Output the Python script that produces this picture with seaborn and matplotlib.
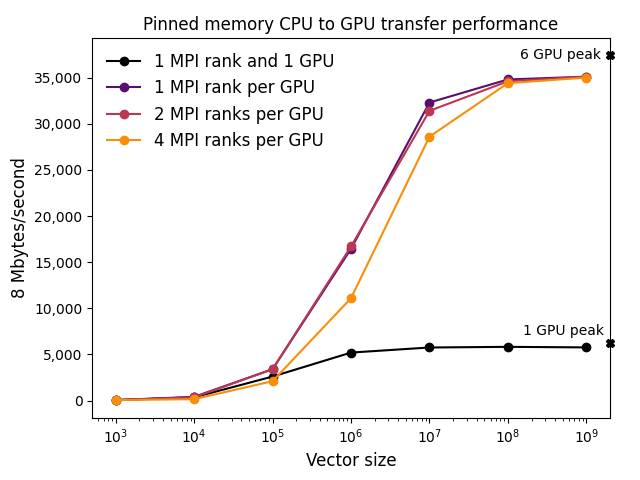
import numpy as np
import pandas as pd
import matplotlib
matplotlib.use('Agg')
import matplotlib.pyplot as plt
import matplotlib.ticker as mticker
import seaborn as sns

vector_sizes = [1e3, 1e4, 1e5, 1e6, 1e7, 1e8, 1e9]
one_rank_one_gpu = [50, 350, 2600, 5200, 5750, 5820, 5760]
one_rank_per_gpu = [50, 400, 3400, 16450, 32300, 34800, 35100]
two_ranks_per_gpu = [50, 350, 3400, 16700, 31400, 34600, 35100]
four_ranks_per_gpu = [50, 150, 2100, 11100, 28600, 34400, 35000]
labels = ['1 MPI rank and 1 GPU', '1 MPI rank per GPU',
          '2 MPI ranks per GPU', '4 MPI ranks per GPU']
peak_labels = ['6 GPU peak', '1 GPU peak']
peak_values = [37500, 6250]

series = [one_rank_one_gpu, one_rank_per_gpu, two_ranks_per_gpu, four_ranks_per_gpu]
colors = plt.cm.inferno(np.linspace(0, 0.75, 4))

fig, ax = plt.subplots(figsize=(6.4, 4.8), dpi=100)
for vals, lab, c in zip(series, labels, colors):
    df = pd.DataFrame({'size': vector_sizes, 'rate': vals})
    sns.lineplot(data=df, x='size', y='rate', ax=ax, color=c, marker='o',
                 markersize=6, markeredgecolor=c, markeredgewidth=1,
                 label=lab)

ax.set_xscale('log')
xmax = 10 ** 9.3
ax.set_xlim(10 ** 2.7, xmax)

# peak markers on the right spine
for lab, val, ty in zip(peak_labels, peak_values, [37500, 7550]):
    ax.plot([xmax], [val], marker='X', color='black', markersize=6, clip_on=False)
    ax.text(10 ** 9.18 if lab.startswith('6') else 10 ** 9.23, ty, lab,
            ha='right', va='center', fontsize=10)

ax.set_ylim(-1900, 39300)
ax.yaxis.set_major_formatter(mticker.StrMethodFormatter('{x:,.0f}'))
ax.set_xlabel('Vector size', fontsize=12)
ax.set_ylabel('8 Mbytes/second', fontsize=12)
ax.set_title('Pinned memory CPU to GPU transfer performance', fontsize=12)
ax.legend(loc='upper left', frameon=False, fontsize=12)

plt.subplots_adjust(left=0.144, right=0.953, top=0.921, bottom=0.129)
plt.savefig('out.png', dpi=100)
